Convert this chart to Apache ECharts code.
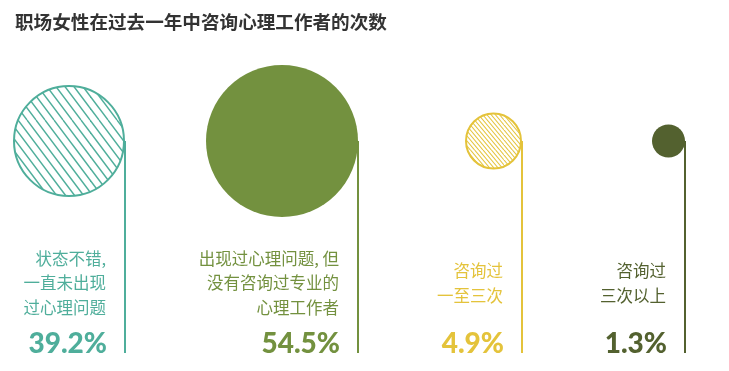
<!DOCTYPE html>
<html>
<head>
<meta charset="utf-8">
<script src="https://cdn.jsdelivr.net/npm/echarts@6/dist/echarts.min.js"></script>
<style>
html,body{margin:0;padding:0;background:#fff;}
#chart{width:729px;height:371px;}
</style>
</head>
<body>
<div id="chart"></div>
<script>
// ---- data ----
const title = '职场女性在过去一年中咨询心理工作者的次数';
const categories = ['状态不错，一直未出现过心理问题', '出现过心理问题，但没有咨询过专业的心理工作者', '咨询过一至三次', '咨询过三次以上'];
const labelLines = [
  ['状态不错,', '一直未出现', '过心理问题'],
  ['出现过心理问题, 但', '没有咨询过专业的', '心理工作者'],
  ['咨询过', '一至三次'],
  ['咨询过', '三次以上']
];
const values = [39.2, 54.5, 4.9, 1.3];

// ---- layout & style (not data) ----
const anchorX = [125, 358, 522, 685];      // panel anchor (stem) positions
const radius = [56, 76, 28.5, 16.5];       // bubble radii
const colors = ['#4fae9b', '#73913f', '#e4c33b', '#53612f'];
const textColors = ['#4fae9b', '#73913f', '#e4c33b', '#53612f'];
const hatch = [{w: 9, h: 12, lw: 1.4}, null, {w: 4.2, h: 5, lw: 1.1}, null];

function makePattern(color, w, h, lw) {
  const c = document.createElement('canvas');
  c.width = w * 10; c.height = h * 10;
  const W = c.width, H = c.height;
  const ctx = c.getContext('2d');
  ctx.strokeStyle = color;
  ctx.lineWidth = lw;
  for (let k = -20; k <= 20; k++) {
    ctx.beginPath();
    ctx.moveTo(k * w, 0);
    ctx.lineTo(k * w + W, H);
    ctx.stroke();
  }
  return {image: c, repeat: 'repeat'};
}

const grids = [], xAxes = [], yAxes = [], series = [];
categories.forEach((cat, i) => {
  grids.push({left: anchorX[i] - 10, width: 20, top: 141, bottom: 18});
  xAxes.push({type: 'category', gridIndex: i, data: [cat], show: false});
  yAxes.push({type: 'value', gridIndex: i, min: 0, max: 1, show: false});
  const fillStyle = hatch[i] ? makePattern(colors[i], hatch[i].w, hatch[i].h, hatch[i].lw) : colors[i];
  series.push({
    type: 'custom',
    xAxisIndex: i,
    yAxisIndex: i,
    data: [[cat, values[i]]],
    renderItem: function (params, api) {
      const center = api.coord([api.value(0), 1]);
      const bottom = api.coord([api.value(0), 0]);
      const x = center[0];
      const r = radius[i];
      const lines = labelLines[i];
      const lh = 24.5;
      const midY = bottom[1] - 70;
      const children = [];
      children.push({
        type: 'line',
        shape: {x1: x, y1: center[1], x2: x, y2: bottom[1]},
        style: {stroke: colors[i], lineWidth: 2}
      });
      children.push({
        type: 'circle',
        shape: {cx: x - r, cy: center[1], r: hatch[i] ? r - 1 : r},
        style: hatch[i] ? {fill: fillStyle, stroke: colors[i], lineWidth: 2} : {fill: colors[i]}
      });
      lines.forEach((t, k) => {
        children.push({
          type: 'text',
          style: {
            text: t,
            x: x - 19,
            y: midY + (k - (lines.length - 1) / 2) * lh,
            align: 'right',
            verticalAlign: 'middle',
            font: '16.5px "Noto Sans CJK SC", sans-serif',
            fill: textColors[i]
          }
        });
      });
      children.push({
        type: 'text',
        style: {
          text: api.value(1).toFixed(1) + '%',
          x: x - 18,
          y: bottom[1] - 9,
          align: 'right',
          verticalAlign: 'middle',
          font: '900 28px Lato, "Open Sans", sans-serif',
          fill: colors[i]
        }
      });
      return {type: 'group', children: children};
    }
  });
});

const chart = echarts.init(document.getElementById('chart'), null, {renderer: 'canvas'});
chart.setOption({
  animation: false,
  title: {
    text: title,
    left: 10,
    top: 8,
    textStyle: {fontSize: 18.6, fontWeight: 'bold', color: '#333', fontFamily: '"Noto Sans CJK SC", sans-serif'}
  },
  grid: grids,
  xAxis: xAxes,
  yAxis: yAxes,
  series: series
});
</script>
</body>
</html>
